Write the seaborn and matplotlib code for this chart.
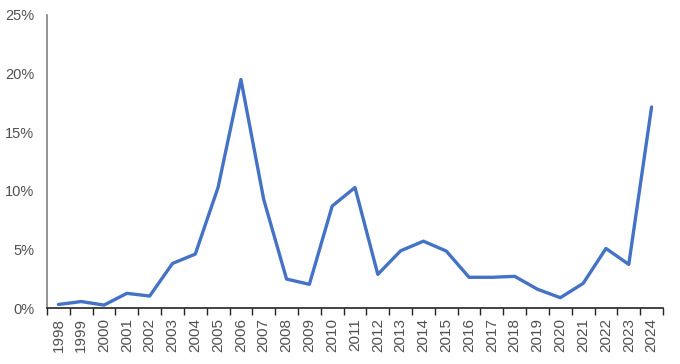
import matplotlib
matplotlib.use("Agg")
import matplotlib.pyplot as plt
import seaborn as sns
import pandas as pd
from matplotlib.ticker import FixedLocator, PercentFormatter

years = [str(y) for y in range(1998, 2025)]
values = [0.3, 0.55, 0.25, 1.25, 1.02, 3.8, 4.6, 10.3, 19.5, 9.25, 2.47, 2.02, 8.7,
          10.28, 2.87, 4.88, 5.7, 4.86, 2.62, 2.62, 2.7, 1.6, 0.88, 2.1, 5.08, 3.72, 17.15]
y_ticks = [0, 5, 10, 15, 20, 25]

sns.set_style("white")
plt.rcParams['font.family'] = ['Liberation Sans', 'DejaVu Sans']

df = pd.DataFrame({"year": years, "value": values})

fig = plt.figure(figsize=(6.8, 3.64), dpi=100)
ax = fig.add_axes([47 / 680, 1 - 308 / 364, (663 - 47) / 680, (308 - 15) / 364])

sns.lineplot(data=df, x="year", y="value", ax=ax, color="#4472C4", linewidth=2.4)

ax.set_xlim(-0.5, len(years) - 0.5)
ax.set_ylim(0, 25)
ax.set_yticks(y_ticks)
ax.yaxis.set_major_formatter(PercentFormatter(decimals=0))
ax.set_xlabel("")
ax.set_ylabel("")

# tick marks between categories, labels centred on them
ax.xaxis.set_minor_locator(FixedLocator([i - 0.5 for i in range(len(years) + 1)]))
ax.tick_params(axis="x", which="minor", length=5, width=1, color="#222222", direction="out", bottom=True)
ax.tick_params(axis="x", which="major", length=0, pad=7, labelsize=11, labelcolor="#505050")
plt.setp(ax.get_xticklabels(), rotation=90)
ax.tick_params(axis="y", length=0, pad=9, labelsize=10.5, labelcolor="#505050")

for s in ["top", "right"]:
    ax.spines[s].set_visible(False)
ax.spines["bottom"].set_color("#222222")
ax.spines["bottom"].set_linewidth(1.2)
ax.spines["left"].set_color("#808080")
ax.spines["left"].set_linewidth(1.2)

fig.savefig("out.png", dpi=100)
